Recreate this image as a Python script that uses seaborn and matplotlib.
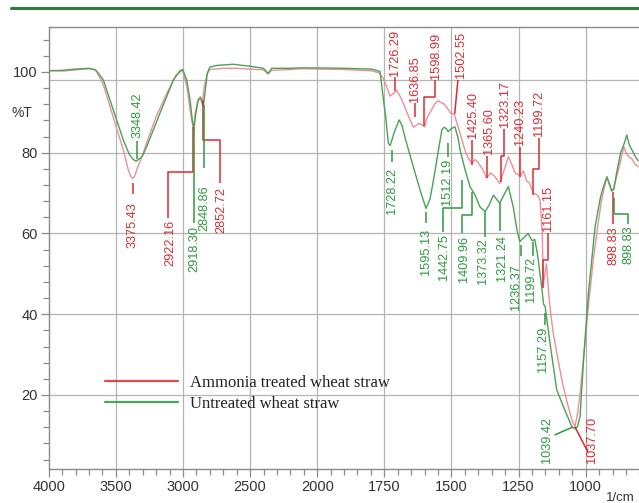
import numpy as np
import pandas as pd
import matplotlib
matplotlib.use("Agg")
import matplotlib.pyplot as plt
import matplotlib.transforms as mtransforms
from matplotlib.lines import Line2D
from matplotlib.ticker import FixedLocator, NullFormatter
import seaborn as sns

sns.set_theme(style="ticks")
plt.rcParams["font.family"] = ["Liberation Sans", "DejaVu Sans"]

# ---- FTIR spectra (wavenumber in 1/cm, transmittance in %T) ----
treated_wn = [4000, 3900, 3800, 3700, 3650, 3630, 3593, 3543, 3494, 3444, 3410, 3390,
              3375, 3360, 3330, 3300, 3270, 3200, 3120, 3050, 3002, 2970, 2950, 2935,
              2922, 2910, 2890, 2870, 2855, 2840, 2820, 2800, 2700, 2600, 2500, 2400,
              2365, 2340, 2200, 2100, 2000, 1900, 1800, 1770, 1755, 1741, 1729, 1714,
              1704, 1690, 1679, 1660, 1642, 1620, 1600, 1592, 1561, 1549, 1540, 1530,
              1515, 1503, 1490, 1478, 1468, 1450, 1440, 1425, 1412, 1400, 1385, 1369,
              1355, 1340, 1320, 1300, 1288, 1275, 1263, 1250, 1245, 1232, 1220, 1210,
              1195, 1180, 1170, 1162, 1158, 1152, 1146, 1138, 1130, 1121, 1103, 1085,
              1065, 1050, 1040, 1030, 1021, 1003, 990, 972, 955, 941, 930, 921, 912,
              903, 898, 885, 870, 858, 850, 840, 828, 815, 800]
treated_T = [100.3, 100.2, 100.5, 100.8, 100.5, 99.3, 96.8, 91.4, 86.0, 80.7, 76.1, 74.2,
             73.6, 74.2, 77.0, 79.5, 82.5, 88.9, 94.7, 99.3, 100.4, 96.3, 91.4, 88.0,
             86.2, 89.5, 93.0, 93.9, 92.5, 96.5, 99.5, 100.6, 100.9, 100.9, 100.7, 100.5,
             99.5, 100.4, 100.6, 100.8, 100.7, 100.6, 100.3, 99.8, 98.5, 96.3, 94.0, 94.8,
             95.4, 93.8, 92.2, 89.0, 86.3, 87.3, 86.4, 88.5, 92.2, 92.9, 92.4, 92.2,
             91.0, 89.8, 89.5, 87.0, 84.8, 80.7, 79.0, 77.4, 78.3, 77.5, 76.0, 73.7,
             75.0, 74.2, 72.4, 76.5, 79.0, 77.0, 75.0, 74.5, 74.0, 75.5, 73.0, 72.5,
             70.0, 69.5, 68.3, 60.0, 47.0, 50.0, 52.5, 45.0, 40.0, 35.3, 28.7, 22.5,
             17.1, 13.5, 12.2, 15.5, 20.4, 32.8, 42.0, 53.4, 62.0, 68.3, 71.5, 74.0, 72.0,
             70.5, 70.8, 74.0, 78.0, 81.5, 80.0, 79.0, 78.5, 77.0, 76.5]

untreated_wn = [4000, 3900, 3800, 3700, 3660, 3640, 3593, 3543, 3494, 3444, 3400, 3370,
                3348, 3320, 3300, 3270, 3221, 3171, 3121, 3072, 3022, 3002, 2972, 2947,
                2930, 2918, 2905, 2886, 2868, 2849, 2836, 2819, 2800, 2750, 2625, 2500,
                2401, 2365, 2339, 2200, 2128, 2000, 1900, 1800, 1785, 1766, 1753, 1745,
                1735, 1728, 1718, 1710, 1695, 1685, 1670, 1642, 1617, 1595, 1580, 1567,
                1545, 1536, 1528, 1520, 1512, 1500, 1487, 1475, 1468, 1449, 1431, 1412,
                1394, 1375, 1360, 1344, 1330, 1320, 1305, 1288, 1270, 1255, 1245, 1230,
                1214, 1205, 1199, 1190, 1180, 1164, 1157, 1151, 1133, 1108, 1083, 1052,
                1039, 1030, 1021, 1008, 990, 965, 945, 934, 921, 910, 903, 895, 885, 870,
                858, 847, 838, 828, 815, 805]
untreated_T = [100.3, 100.4, 100.7, 100.9, 100.6, 100.1, 98.0, 93.0, 88.1, 83.1, 79.6, 78.3,
               77.9, 78.6, 79.3, 81.5, 85.6, 89.8, 93.9, 98.0, 100.3, 100.6, 98.0, 93.0,
               88.0, 85.8, 89.5, 93.0, 93.5, 91.3, 94.8, 99.6, 101.2, 101.6, 101.9, 101.4,
               100.9, 99.6, 100.9, 100.9, 101.0, 101.0, 100.9, 100.7, 100.5, 100.1, 93.0, 89.0,
               82.3, 81.8, 84.0, 85.6, 88.1, 86.9, 83.0, 76.5, 70.8, 66.2, 68.5, 73.2,
               82.0, 85.6, 86.3, 86.0, 85.2, 86.0, 86.4, 83.5, 80.7, 75.7, 71.6, 69.5,
               66.6, 65.4, 67.0, 69.5, 68.3, 67.5, 69.5, 71.6, 66.6, 60.5, 58.0, 59.0,
               60.0, 58.8, 58.2, 58.5, 55.0, 46.8, 42.5, 41.9, 32.8, 21.3, 17.1, 12.2,
               11.6, 12.3, 14.7, 28.7, 45.2, 61.7, 69.0, 71.6, 74.0, 72.0, 70.5, 71.0, 75.0, 80.0,
               82.0, 84.4, 82.0, 80.7, 79.0, 78.0]

series_names = ["Ammonia treated wheat straw", "Untreated wheat straw"]

# ---- peak annotations: text, text position, alignment, leader path ----
treated_labels = ["3375.43", "2922.16", "2852.72", "1726.29", "1636.85", "1598.99",
                  "1502.55", "1425.40", "1365.60", "1323.17", "1240.23", "1199.72",
                  "1161.15", "1037.70", "898.83"]
treated_label_xy = [(3375, 67.8, "top"), (3090, 63.4, "top"), (2713, 71.6, "top"),
                    (1710, 99.1, "bottom"), (1636, 92.5, "bottom"), (1557, 98.3, "bottom"),
                    (1463, 98.6, "bottom"), (1418, 83.6, "bottom"), (1362, 79.7, "bottom"),
                    (1302, 86.3, "bottom"), (1243, 82.0, "bottom"), (1173, 84.1, "bottom"),
                    (1140, 60.6, "bottom"), (978, 8.9, "center"), (898, 61.8, "top")]
treated_leaders = [
    [(3375, 72.6), (3375, 69.8)],
    [(2924, 86.4), (2924, 75.3), (3111, 75.3), (3111, 63.8)],
    [(2852, 93.0), (2852, 83.1), (2724, 83.1), (2724, 72.5)],
    [(1710, 98.7), (1710, 95.2)],
    [(1636, 92.2), (1636, 88.9)],
    [(1602, 86.6), (1602, 93.9), (1560, 93.9), (1560, 98.0)],
    [(1488, 89.6), (1476, 98.0)],
    [(1424, 77.0), (1424, 83.1)],
    [(1367, 73.7), (1367, 79.2)],
    [(1315, 72.7), (1315, 79.2), (1304, 79.2), (1304, 85.9)],
    [(1245, 74.1), (1245, 81.5)],
    [(1195, 69.6), (1195, 76.0), (1175, 76.0), (1175, 83.6)],
    [(1159, 46.5), (1159, 53.4), (1140, 53.4), (1140, 60.1)],
    [(1040, 12.1), (992, 5.9)],
    [(898, 70.3), (898, 62.3)],
]

untreated_labels = ["3348.42", "2918.30", "2848.86", "1728.22", "1595.13", "1512.19",
                    "1442.75", "1409.96", "1373.32", "1321.24", "1236.37", "1199.72",
                    "1157.29", "1039.42", "898.83"]
untreated_label_xy = [(3340, 83.6, "bottom"), (2915, 61.9, "top"), (2842, 71.8, "top"),
                      (1722, 76.2, "top"), (1595, 61.2, "top"), (1517, 78.6, "top"),
                      (1526, 59.9, "top"), (1455, 59.4, "top"), (1381, 58.8, "top"),
                      (1311, 59.6, "top"), (1260, 52.4, "top"), (1204, 54.2, "top"),
                      (1158, 37.0, "top"), (1143, 8.9, "center"), (840, 62.1, "top")]
untreated_leaders = [
    [(3340, 78.4), (3340, 83.0)],
    [(2915, 86.0), (2915, 62.5)],
    [(2842, 91.7), (2842, 76.2)],
    [(1722, 80.7), (1722, 77.8)],
    [(1595, 65.2), (1595, 62.5)],
    [(1512, 82.3), (1512, 79.0)],
    [(1462, 73.2), (1462, 66.3), (1530, 66.3), (1530, 60.4)],
    [(1425, 70.3), (1425, 64.6), (1459, 64.6), (1459, 60.1)],
    [(1376, 65.4), (1376, 59.2)],
    [(1320, 67.5), (1320, 60.5)],
    [(1240, 57.1), (1240, 54.4)],
    [(1195, 57.9), (1195, 54.4)],
    [(1152, 40.3), (1152, 37.3)],
    [(1116, 10.1), (1047, 12.1)],
    [(894, 68.8), (894, 64.8), (842, 64.8), (842, 62.4)],
]

x_major = [4000, 3500, 3000, 2500, 2000, 1750, 1500, 1250, 1000]
y_major = [20, 40, 60, 80, 100]

# ---- colours ----
spec_colors = {series_names[0]: "#ef8e98", series_names[1]: "#47a356"}
label_red = "#dc2a32"
label_green = "#2c9a3c"
grid_col = "#b4b4b4"
axis_col = "#8a8a8a"


def fwd(x):
    # wavenumber axis: half scale above 2000 1/cm
    x = np.asarray(x, dtype=float)
    return np.where(x > 2000, 2000 + (x - 2000) / 2.0, x)


def inv(u):
    u = np.asarray(u, dtype=float)
    return np.where(u > 2000, 2000 + 2.0 * (u - 2000), u)


df = pd.concat([
    pd.DataFrame({"wn": treated_wn, "T": treated_T, "sample": series_names[0]}),
    pd.DataFrame({"wn": untreated_wn, "T": untreated_T, "sample": series_names[1]}),
], ignore_index=True)

fig = plt.figure(figsize=(6.39, 5.03), dpi=100)
ax = fig.add_axes([48.7 / 639, 33.7 / 503, 631 / 639, 442.6 / 503])

sns.lineplot(data=df, x="wn", y="T", hue="sample", palette=spec_colors,
             estimator=None, sort=False, linewidth=1.0, legend=False, ax=ax, zorder=3)

ax.set_xscale("function", functions=(fwd, inv))
ax.set_xlim(4000, 650)
ax.set_ylim(1.6, 111.2)

# grid
for xv in x_major[1:]:
    ax.axvline(xv, color=grid_col, lw=0.9, zorder=0)
for yv in [20, 40, 60, 80, 98]:
    ax.axhline(yv, color=grid_col, lw=0.9, zorder=0)

# ticks
ax.xaxis.set_major_locator(FixedLocator(x_major))
x_minor = [v for v in list(range(3900, 2000, -100)) + list(range(1950, 650, -50))
           if v not in x_major]
ax.xaxis.set_minor_locator(FixedLocator(x_minor))
ax.xaxis.set_minor_formatter(NullFormatter())
ax.set_xticklabels([str(v) for v in x_major])
ax.yaxis.set_major_locator(FixedLocator(y_major))
ax.yaxis.set_minor_locator(FixedLocator([v for v in range(4, 112, 4) if v not in y_major]))
ax.yaxis.set_minor_formatter(NullFormatter())
ax.set_yticklabels([str(v) for v in y_major])
ax.tick_params(axis="both", which="major", direction="out", length=6, width=0.9,
               color=axis_col, labelsize=10.5, labelcolor="#333333", pad=2)
ax.tick_params(axis="both", which="minor", direction="out", length=4, width=0.9,
               color=axis_col)
ax.set_xlabel("")
ax.set_ylabel("")

for side in ["left", "bottom", "top"]:
    ax.spines[side].set_color(axis_col)
    ax.spines[side].set_linewidth(1.0)
ax.spines["right"].set_visible(False)

# %T unit next to the y axis
ax.text(-0.026, 89.8, "%T", transform=mtransforms.blended_transform_factory(ax.transAxes, ax.transData),
        ha="right", va="center", fontsize=10, color="#333333")
fig.text(620 / 639, 1 - 498 / 503, "1/cm", ha="center", va="center", fontsize=9.5, color="#333333")


def annotate(labels, positions, leaders, color):
    for txt, (xt, yt, va), path in zip(labels, positions, leaders):
        xs = [p[0] for p in path]
        ys = [p[1] for p in path]
        ax.plot(xs, ys, color=color, lw=1.1, zorder=4, solid_capstyle="butt")
        ax.text(xt, yt, txt, rotation=90, ha="center", va=va, color=color,
                fontsize=9.2, zorder=5)


annotate(treated_labels, treated_label_xy, treated_leaders, label_red)
annotate(untreated_labels, untreated_label_xy, untreated_leaders, label_green)

# legend
handles = [Line2D([0], [0], color="#e04a4a", lw=1.6),
           Line2D([0], [0], color="#4aa65a", lw=1.6)]
leg = ax.legend(handles, series_names, loc="center left", bbox_to_anchor=(0.089, 0.172),
                frameon=False, handlelength=4.4, handletextpad=0.7, labelspacing=0.3,
                borderpad=0, borderaxespad=0,
                prop={"family": "Liberation Serif", "size": 12})
for t in leg.get_texts():
    t.set_color("#222222")

# header rule
fig.add_artist(Line2D([11 / 639, 1.0], [1 - 8 / 503, 1 - 8 / 503], color="#2f7d3b", lw=2.2,
                      transform=fig.transFigure))

fig.savefig("out.png", dpi=100)
